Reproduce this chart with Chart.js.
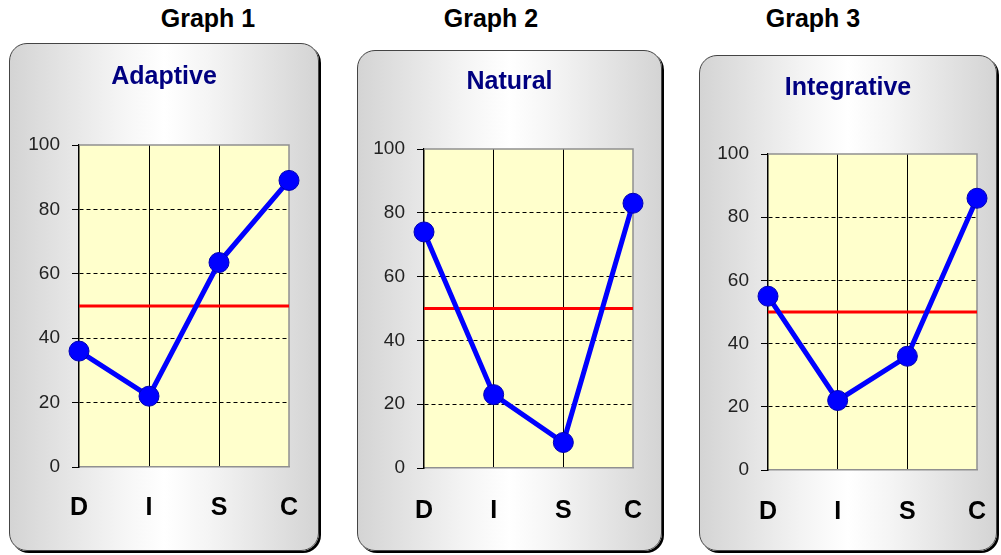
<!DOCTYPE html>
<html>
<head>
<meta charset="utf-8">
<script src="https://cdn.jsdelivr.net/npm/chart.js@4/dist/chart.umd.min.js"></script>
<style>
  html, body { margin: 0; padding: 0; background: #fff; }
  body { width: 1001px; height: 555px; position: relative; overflow: hidden; font-family: "Liberation Sans", Arial, sans-serif; }
  .head { position: absolute; width: 160px; margin-left: -80px; text-align: center; font-weight: bold; font-size: 25px; color: #000; line-height: 30px; }
  .card { position: absolute; box-sizing: border-box; border: 1px solid #444; border-radius: 18px;
          box-shadow: 2px 2px 0 #000;
          background: linear-gradient(to right, #d4d4d4 0%, #f4f4f4 35%, #ffffff 50%, #f4f4f4 65%, #d4d4d4 100%); }
  .card canvas { position: absolute; left: 0; top: 0; }
</style>
</head>
<body>
<script>
const categories = ['D', 'I', 'S', 'C'];
const graphNames = ['Graph 1', 'Graph 2', 'Graph 3'];
const chartTitles = ['Adaptive', 'Natural', 'Integrative'];
const adaptive = [36, 22, 63.5, 89];
const natural = [74, 23, 8, 83];
const integrative = [55, 22, 36, 86];
const midline = [50, 50, 50, 50];
const seriesList = [adaptive, natural, integrative];

// where each card and its plot sit on the page
const panels = [
  { card: { x: 9, y: 43, w: 310, h: 508 }, plot: { l: 79, r: 289, t: 145, b: 467 }, titleY: 77, labelY: 508, headX: 208 },
  { card: { x: 357, y: 50, w: 305, h: 501 }, plot: { l: 424, r: 633, t: 149, b: 468 }, titleY: 82, labelY: 511, headX: 491 },
  { card: { x: 699, y: 55, w: 298, h: 496 }, plot: { l: 768, r: 977, t: 154, b: 470 }, titleY: 88, labelY: 512, headX: 813 }
];

const FONT = '"Liberation Sans", Arial, sans-serif';
Chart.defaults.font.family = FONT;
const LABEL_SIZE = 25;

// width of the last category label, chart.js pads the right side by half of it plus ticks.padding
const measure = document.createElement('canvas').getContext('2d');
measure.font = 'bold ' + LABEL_SIZE + 'px ' + FONT;
const lastHalf = measure.measureText(categories[categories.length - 1]).width / 2;

const plotFrame = {
  id: 'plotFrame',
  beforeDraw(chart) {
    const { ctx, chartArea: a } = chart;
    ctx.save();
    ctx.fillStyle = '#ffffcc';
    ctx.fillRect(a.left, a.top, a.width, a.height);
    ctx.restore();
  },
  beforeDatasetsDraw(chart) {
    const { ctx, chartArea: a } = chart;
    ctx.save();
    ctx.strokeStyle = '#909090';
    ctx.lineWidth = 1.5;
    ctx.beginPath();
    ctx.moveTo(a.left, a.top);
    ctx.lineTo(a.right, a.top);
    ctx.lineTo(a.right, a.bottom);
    ctx.stroke();
    ctx.restore();
  }
};

panels.forEach((p, i) => {
  const head = document.createElement('div');
  head.className = 'head';
  head.style.left = p.headX + 'px';
  head.style.top = '3px';
  head.textContent = graphNames[i];
  document.body.appendChild(head);

  const card = document.createElement('div');
  card.className = 'card';
  card.style.left = p.card.x + 'px';
  card.style.top = p.card.y + 'px';
  card.style.width = p.card.w + 'px';
  card.style.height = p.card.h + 'px';
  document.body.appendChild(card);

  const W = p.card.w - 2, H = p.card.h - 2;
  const ox = p.card.x + 1, oy = p.card.y + 1;
  const canvas = document.createElement('canvas');
  canvas.width = W;
  canvas.height = H;
  card.appendChild(canvas);

  const left = p.plot.l - ox, right = p.plot.r - ox;
  const top = p.plot.t - oy, bottom = p.plot.b - oy;
  const tTop = p.titleY - oy - 15;

  // right gap comes from ticks.padding, label drop comes from an invisible tick
  const xPad = Math.max(W - right - lastHalf, 0);
  const drop = p.labelY - p.plot.b - LABEL_SIZE * 0.6;
  const xTick = Math.max(drop - xPad, 0);

  new Chart(canvas.getContext('2d'), {
    type: 'line',
    data: {
      labels: categories,
      datasets: [
        {
          data: seriesList[i],
          borderColor: '#0000ff',
          borderWidth: 5,
          tension: 0,
          pointRadius: 10,
          pointHoverRadius: 10,
          pointBackgroundColor: '#0000ff',
          pointBorderColor: '#0000b4',
          pointBorderWidth: 1,
          order: 0
        },
        {
          data: midline,
          borderColor: '#ff0000',
          borderWidth: 3,
          pointRadius: 0,
          order: 1
        }
      ]
    },
    options: {
      responsive: false,
      animation: false,
      events: [],
      layout: { padding: 0 },
      plugins: {
        legend: { display: false },
        tooltip: { enabled: false },
        title: {
          display: true,
          text: chartTitles[i],
          color: '#000080',
          font: { family: FONT, size: 25, weight: 'bold' },
          padding: { top: tTop, bottom: top - tTop - 30 }
        }
      },
      scales: {
        x: {
          offset: false,
          grid: {
            color: c => (c.index === 1 || c.index === 2) ? '#000' : 'rgba(0,0,0,0)',
            lineWidth: 1,
            drawTicks: true,
            tickLength: xTick,
            tickColor: 'rgba(0,0,0,0)'
          },
          border: { color: '#909090', width: 1.5 },
          ticks: {
            padding: xPad,
            color: '#000',
            maxRotation: 0,
            font: { family: FONT, size: LABEL_SIZE, weight: 'bold' }
          },
          afterFit: s => { s.height = H - bottom; }
        },
        y: {
          min: 0,
          max: 100,
          ticks: { stepSize: 20, padding: 12, color: '#222', font: { family: FONT, size: 19 } },
          grid: {
            color: c => (c.tick && (c.tick.value === 0 || c.tick.value === 100)) ? 'rgba(0,0,0,0)' : '#000',
            lineWidth: 1,
            tickColor: '#000',
            tickLength: 7,
            tickBorderDash: []
          },
          border: { color: '#000', width: 1.5, dash: [4, 3] },
          afterFit: s => { s.width = left; }
        }
      }
    },
    plugins: [plotFrame]
  });
});
</script>
</body>
</html>
